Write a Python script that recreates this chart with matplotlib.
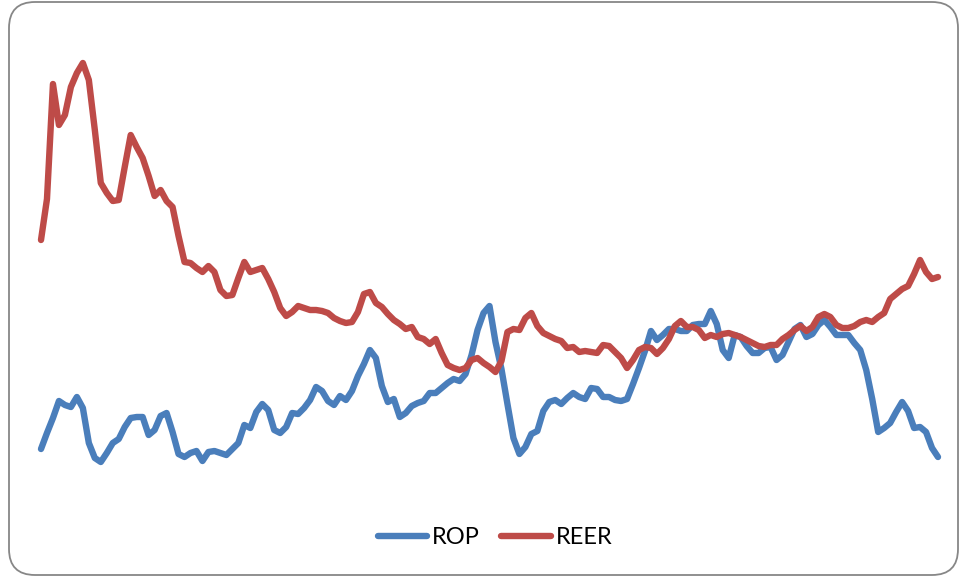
import numpy as np
import matplotlib.pyplot as plt
from matplotlib.patches import FancyBboxPatch

# series values (arbitrary index units, one per period)
reer = [260, 301, 416, 375, 385, 413, 427, 437, 420, 370, 317, 307, 299, 300, 333,
        365, 353, 342, 324, 304, 310, 299, 293, 264, 238, 237, 232, 228, 234, 228,
        210, 204, 205, 222, 238, 228, 230, 232, 221, 208, 192, 184, 188, 194, 192,
        190, 190, 189, 187, 182, 179, 177, 178, 188, 206, 208, 197, 193, 186, 180,
        176, 171, 173, 163, 161, 156, 161, 147, 135, 132, 130, 132, 140, 142, 137,
        133, 128, 139, 168, 171, 170, 182, 187, 174, 167, 164, 161, 159, 152, 153,
        148, 149, 148, 147, 155, 154, 148, 142, 132, 140, 150, 153, 152, 146, 152,
        161, 174, 179, 173, 173, 170, 162, 165, 163, 166, 167, 165, 163, 160, 157,
        154, 153, 155, 155, 161, 165, 170, 174, 169, 173, 183, 186, 183, 175, 172,
        172, 174, 178, 180, 178, 183, 187, 201, 206, 211, 214, 226, 240, 228, 221,
        223]
rop = [51, 67, 82, 99, 95, 93, 103, 92, 57, 42, 38, 47, 57, 61, 73,
       82, 83, 83, 65, 70, 84, 87, 68, 46, 43, 47, 49, 39, 48, 49,
       47, 45, 51, 57, 75, 72, 88, 96, 90, 70, 67, 73, 87, 86, 92,
       100, 113, 109, 99, 95, 104, 100, 109, 124, 136, 150, 142, 114, 98, 101,
       83, 87, 94, 97, 99, 107, 107, 112, 117, 121, 119, 126, 145, 170, 187,
       194, 158, 131, 96, 62, 46, 53, 66, 69, 89, 98, 100, 96, 102, 107,
       103, 101, 112, 111, 103, 103, 100, 99, 101, 116, 132, 149, 169, 160, 165,
       171, 171, 169, 169, 175, 176, 176, 189, 176, 150, 142, 165, 163, 154, 147,
       147, 152, 153, 140, 145, 158, 171, 175, 163, 166, 175, 180, 173, 165, 165,
       165, 157, 150, 130, 101, 68, 72, 77, 88, 98, 89, 72, 73, 68, 52,
       43]
periods = np.arange(len(reer))

W, H = 960, 576
fig = plt.figure(figsize=(W / 100, H / 100), dpi=100)
plt.rcParams['font.family'] = ['Lato', 'DejaVu Sans']

# rounded chart border, clipped by the right and bottom image edges
border = FancyBboxPatch((9, 1), 949, 573, boxstyle='round,pad=0,rounding_size=26',
                        transform=None, facecolor='none', edgecolor='#878787',
                        linewidth=1.3, zorder=-1)
fig.patches.append(border)

ax = fig.add_axes([41 / W, (H - 500) / H, (938 - 41) / W, 460 / H])
ax.set_xlim(0, len(reer) - 1)
ax.set_ylim(0, 460)
ax.axis('off')

ax.plot(periods, rop, color='#4A7EBB', lw=4.6, solid_capstyle='round',
        solid_joinstyle='round', label='ROP', clip_on=False)
ax.plot(periods, reer, color='#BE4B48', lw=4.6, solid_capstyle='round',
        solid_joinstyle='round', label='REER', clip_on=False)

fig.legend(loc='center', bbox_to_anchor=(495 / W, 1 - 538 / H), ncol=2,
           frameon=False, fontsize=17, handlelength=2.1, handletextpad=0.2,
           columnspacing=0.9)

fig.savefig('out.png', dpi=100)
